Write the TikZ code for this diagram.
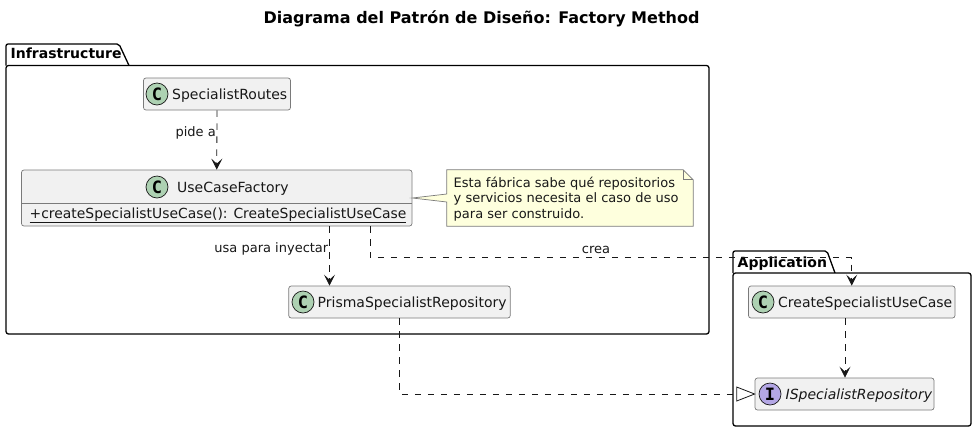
\documentclass[tikz,border=0pt]{standalone}
\usepackage{fontspec}
\setmainfont{DejaVu Sans}
\newfontfamily\iconfont{DejaVu Sans Mono}
\usetikzlibrary{arrows.meta,calc}
\definecolor{boxfill}{HTML}{F1F1F1}
\definecolor{boxline}{HTML}{7A7A7A}
\definecolor{notefill}{HTML}{FEFFDD}
\definecolor{classicon}{HTML}{ADD1B2}
\definecolor{ifaceicon}{HTML}{B4A7E5}
\definecolor{ink}{HTML}{181818}
\tikzset{
  pkgline/.style={draw=black,line width=1.3pt,line join=round},
  pkgbody/.style={pkgline,fill=white,rounded corners=2.5pt},
  pkgtitle/.style={font=\fontsize{14}{16}\selectfont\bfseries,anchor=base west,inner sep=0pt,text=black},
  umlbox/.style={draw=boxline,fill=boxfill,line width=0.7pt,rounded corners=2.5pt,inner sep=0pt},
  uicon/.style={circle,draw=ink,line width=0.7pt,minimum size=22pt,inner sep=0pt,font=\iconfont\fontsize{17}{17}\selectfont\bfseries,text=black},
  ctext/.style={font=\fontsize{14}{16}\selectfont,anchor=base west,inner sep=0pt,text=ink},
  elabel/.style={font=\fontsize{13}{15}\selectfont,inner sep=0pt,text=ink},
  dep/.style={draw=ink,line width=0.8pt,dash pattern=on 6.5pt off 6.5pt,-{Stealth[length=11pt,width=11pt,inset=5pt]}},
  real/.style={draw=ink,line width=0.8pt,dash pattern=on 6.5pt off 6.5pt},
  realtip/.style={draw=ink,line width=0.8pt,fill=white,line join=miter},
}
\begin{document}
\begin{tikzpicture}[x=1pt,y=-1pt]
\useasboundingbox (0,0) rectangle (977,432);
\node[font=\fontsize{16}{18}\selectfont\bfseries,text=black] (title) at (481.5,19) {Diagrama del Patrón de Diseño: Factory Method};

% packages
\draw[pkgline,fill=white,rounded corners=2pt] (6,65.5) -- (6,44) -- (119,44) -- (129,65.5);
\node[pkgbody,minimum width=703pt,minimum height=268.5pt] (infra) at (357.5,199.75) {};
\node[pkgtitle] (infratitle) at (10.5,58) {Infrastructure};
\draw[pkgline,fill=white,rounded corners=2pt] (733,273) -- (733,251) -- (827,251) -- (835,273);
\node[pkgbody,minimum width=238pt,minimum height=153pt] (app) at (852,349.5) {};
\node[pkgtitle] (apptitle) at (737.5,267) {Application};

% classes
\node[umlbox,minimum width=147pt,minimum height=32pt] (routes) at (217,94) {};
\node[uicon,fill=classicon] (routesicon) at (157,94) {C};
\node[ctext] (routestext) at (172,99) {SpecialistRoutes};

\node[umlbox,minimum width=390.5pt,minimum height=56pt] (factory) at (216.75,198) {};
\draw[draw=boxline,line width=0.7pt] (factory.west |- 0,203) -- (factory.east |- 0,203);
\node[uicon,fill=classicon] (factoryicon) at (157,187) {C};
\node[ctext] (factorytext) at (177,192) {UseCaseFactory};
\node[ctext,font=\fontsize{13.9}{16}\selectfont] (factorymember) at (29.5,218) {\underline{+createSpecialistUseCase(): CreateSpecialistUseCase}};

\node[umlbox,minimum width=221.5pt,minimum height=32pt] (prisma) at (399.5,302) {};
\node[uicon,fill=classicon] (prismaicon) at (303,302) {C};
\node[ctext] (prismatext) at (317.5,307) {PrismaSpecialistRepository};

\node[umlbox,minimum width=206.5pt,minimum height=32pt] (create) at (851.75,302) {};
\node[uicon,fill=classicon] (createicon) at (763,302) {C};
\node[ctext] (createtext) at (778,307) {CreateSpecialistUseCase};

\node[umlbox,minimum width=179pt,minimum height=32pt] (ispec) at (844.5,394) {};
\node[uicon,fill=ifaceicon] (ispecicon) at (770,394) {I};
\node[ctext,font=\fontsize{14}{16}\selectfont\itshape] (ispectext) at (785.5,399) {ISpecialistRepository};

% note
\node[inner sep=0pt,minimum width=246pt,minimum height=56pt] (note) at (570,198) {};
\draw[draw=boxline,fill=notefill,line width=0.7pt,line join=miter]
  (factory.east) ++(0,0) -- ([yshift=4pt]note.west) -- (note.north west) -- ([xshift=-10pt]note.north east)
  -- ([yshift=-10pt]note.north east) -- (note.south east) -- (note.south west) -- ([yshift=-4pt]note.west) -- cycle;
\draw[draw=boxline,line width=0.7pt] ([xshift=-10pt]note.north east) -- ([xshift=-10pt,yshift=-10pt]note.north east) -- ([yshift=-10pt]note.north east);
\node[font=\fontsize{13}{15.2}\selectfont,align=left,anchor=north west,inner sep=0pt,text=ink] (notetext) at (453.5,177) {Esta fábrica sabe qué repositorios\\y servicios necesita el caso de uso\\para ser construido.};

% connectors
\draw[dep] (routes.south) -- (factory.north);
\node[elabel,anchor=east] (l1) at (216,132.5) {pide a};

\coordinate (fa) at ([xshift=112.75pt]factory.south);
\draw[dep] (fa) -- (fa |- prisma.north);
\node[elabel,anchor=east] (l2) at (328.5,248.5) {usa para inyectar};

\coordinate (fb) at ([xshift=153.25pt]factory.south);
\coordinate (fbend) at (fb |- 0,257.5);
\coordinate (cin) at (create.north);
\draw[dep] (fb) -- (fbend) -- (cin |- fbend) -- (cin);
\node[elabel] (l3) at (596,250) {crea};

\coordinate (ca) at ([xshift=-6.75pt]create.south);
\draw[dep] (ca) -- (ca |- ispec.north);

\coordinate (pa) at (prisma.south);
\coordinate (pbend) at (pa |- ispec.west);
\coordinate (tb) at ([xshift=-18pt]ispec.west);
\draw[real] (pa) -- (pbend) -- (tb);
\draw[realtip] (ispec.west) -- ([yshift=7pt]tb) -- ([yshift=-7pt]tb) -- cycle;
\end{tikzpicture}
\end{document}
